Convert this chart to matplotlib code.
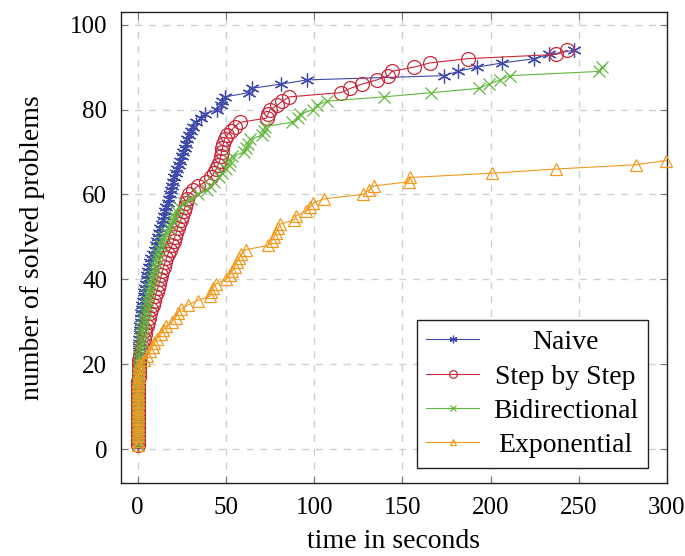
import matplotlib
matplotlib.use("Agg")
import matplotlib.pyplot as plt

plt.rcParams['font.family'] = ['Liberation Serif', 'DejaVu Serif']

counts_naive = list(range(1, 95))
times_naive = [0.02, 0.04, 0.06, 0.08, 0.1, 0.12, 0.14, 0.16, 0.18, 0.2,
               0.22, 0.24, 0.26, 0.28, 0.3, 0.32, 0.35, 0.38, 0.41, 0.45,
               0.5, 0.55, 0.62, 0.7, 0.8, 0.95, 1.1, 1.25, 1.4, 1.6,
               1.8, 2.0, 2.3, 2.6, 3.0, 3.4, 3.8, 4.2, 4.6, 5.0,
               5.5, 6.0, 6.6, 7.2, 7.8, 8.6, 9.6, 10.4, 11.0, 11.6,
               12.2, 12.8, 13.5, 14.2, 14.9, 15.6, 16.3, 17.0, 17.6, 18.3,
               19.0, 19.6, 20.2, 20.8, 21.6, 22.5, 23.4, 24.2, 25.0, 25.8,
               26.6, 27.4, 28.2, 29.2, 30.2, 31.5, 33.2, 35.6, 38.0, 45.0,
               47.0, 48.0, 49.5, 63.0, 64.5, 81.0, 96.0, 173.5, 181.4, 192.2,
               206.6, 224.8, 233.3, 247.5]

counts_step = list(range(1, 95))
times_step = [0.02, 0.04, 0.06, 0.08, 0.1, 0.12, 0.14, 0.16, 0.18, 0.2,
              0.23, 0.26, 0.29, 0.32, 0.36, 0.4, 0.45, 0.5, 0.55, 0.7,
              1.0, 1.4, 1.9, 2.4, 2.9, 3.4, 3.9, 4.4, 5.0, 5.6,
              6.2, 7.0, 7.8, 8.6, 9.3, 10.0, 10.7, 11.4, 12.1, 12.8,
              13.4, 14.0, 14.7, 15.5, 16.3, 17.2, 18.2, 19.4, 20.3, 21.0,
              21.8, 22.6, 23.4, 24.4, 25.3, 26.0, 26.8, 27.5, 28.2, 29.0,
              31.5, 34.0, 38.5, 41.5, 43.0, 44.5, 45.5, 46.5, 47.0, 47.5,
              48.0, 48.5, 49.3, 50.6, 53.0, 55.0, 58.0, 73.0, 74.0, 75.0,
              79.0, 82.0, 86.0, 115.0, 120.5, 127.0, 135.7, 142.0, 144.0, 156.5,
              165.7, 187.0, 237.2, 243.5]

counts_bidir = list(range(1, 91))
times_bidir = [0.02, 0.04, 0.06, 0.08, 0.1, 0.12, 0.14, 0.16, 0.18, 0.2,
               0.22, 0.24, 0.26, 0.28, 0.3, 0.33, 0.36, 0.4, 0.45, 0.5,
               0.6, 0.9, 1.2, 1.5, 1.8, 2.1, 2.4, 2.7, 3.0, 3.4,
               3.8, 4.2, 4.6, 5.0, 5.5, 6.0, 6.5, 7.0, 7.6, 8.2,
               8.8, 9.3, 9.8, 10.3, 10.8, 11.4, 12.2, 13.0, 14.0, 15.0,
               16.2, 17.5, 18.8, 19.8, 20.5, 21.5, 23.5, 26.0, 30.0, 34.0,
               39.0, 41.0, 43.5, 46.0, 48.0, 50.0, 51.5, 52.5, 53.5, 60.5,
               61.5, 62.5, 63.5, 70.5, 71.5, 72.0, 87.3, 91.0, 92.0, 99.6,
               101.5, 107.5, 139.5, 166.4, 193.6, 199.0, 205.5, 211.0, 261.5, 263.0]

counts_expo = list(range(1, 69))
times_expo = [0.02, 0.04, 0.06, 0.08, 0.1, 0.12, 0.14, 0.16, 0.18, 0.2,
              0.23, 0.26, 0.3, 0.34, 0.38, 0.43, 0.5, 0.6, 0.75, 1.0,
              3.5, 5.5, 7.0, 8.5, 9.5, 11.0, 13.0, 14.5, 16.0, 19.5,
              21.5, 22.7, 24.6, 28.4, 34.0, 40.8, 41.7, 42.7, 44.6, 50.3,
              52.2, 53.7, 55.0, 56.0, 57.5, 58.8, 61.3, 74.0, 75.9, 77.2,
              78.4, 79.7, 80.6, 88.8, 89.7, 95.5, 97.7, 99.6, 105.7, 127.7,
              131.0, 133.8, 153.7, 154.3, 200.6, 237.0, 282.4, 299.4]

series_names = ["Naive", "Step by Step", "Bidirectional", "Exponential"]
x_ticks = [0, 50, 100, 150, 200, 250, 300]
y_ticks = [0, 20, 40, 60, 80, 100]

fig = plt.figure(figsize=(6.85, 5.56), dpi=100)
ax = fig.add_axes([0.1766, 0.1313, 0.7971, 0.8471])

lw = 0.8
mew = 0.9
ax.plot(times_naive, counts_naive, color='#3f4aaa', lw=lw, marker=(6, 2, 0),
        ms=10, mew=mew, label=series_names[0], zorder=3, clip_on=False)
ax.plot(times_step, counts_step, color='#c9283a', lw=lw, marker='o', mfc='none',
        ms=10, mew=mew, label=series_names[1], zorder=3, clip_on=False)
ax.plot(times_bidir, counts_bidir, color='#62b83f', lw=lw, marker='x',
        ms=8, mew=mew, label=series_names[2], zorder=3, clip_on=False)
ax.plot(times_expo, counts_expo, color='#f39a1e', lw=lw, marker='^', mfc='none',
        ms=9, mew=mew, label=series_names[3], zorder=3, clip_on=False)

ax.set_xlim(-9.5, 300)
ax.set_ylim(-8, 103)
ax.set_xticks(x_ticks)
ax.set_yticks(y_ticks)
ax.grid(True, color='#d0d0d0', linestyle=(0, (5, 5)), lw=1.0)
ax.set_axisbelow(True)
ax.tick_params(direction='in', length=5, color='#777777', labelsize=18,
               top=True, right=True, pad=10)
for sp in ax.spines.values():
    sp.set_color('#222222')
    sp.set_linewidth(1.0)

ax.set_xlabel("time in seconds", fontsize=20, labelpad=7)
ax.set_ylabel("number of solved problems", fontsize=20, labelpad=18)

leg = ax.legend(loc='lower right', bbox_to_anchor=(0.965, 0.032),
                fontsize=20, frameon=True, fancybox=False,
                edgecolor='#222222', framealpha=1, markerscale=0.55,
                handlelength=1.9, borderpad=0.35, labelspacing=0.32,
                handletextpad=0.5, borderaxespad=0.0)
leg.get_frame().set_linewidth(1.0)

# centre the legend labels within the text column, as in the reference
fig.canvas.draw()
renderer = fig.canvas.get_renderer()
texts = leg.get_texts()
widths = [t.get_window_extent(renderer).width for t in texts]
wmax = max(widths)
for t, w in zip(texts, widths):
    x0, y0 = t.get_position()
    t.set_position((x0 + (wmax - w) / 2.0, y0))

fig.savefig("out.png", dpi=100)
